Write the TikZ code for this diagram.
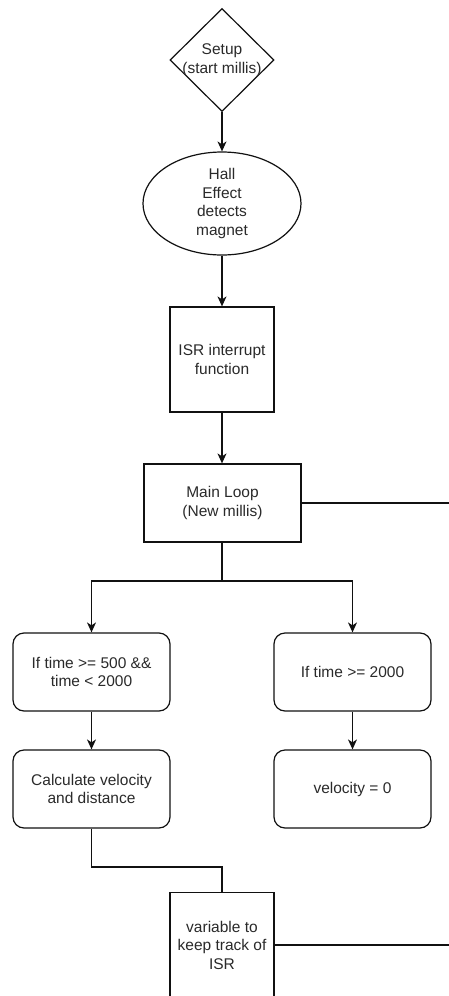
\documentclass[tikz,border=0pt]{standalone}
\usepackage{fontspec}
\setmainfont{Liberation Sans}
\usetikzlibrary{shapes.geometric,arrows.meta}
\definecolor{txtcol}{HTML}{2A2A2A}
\definecolor{linecol}{HTML}{111111}
\tikzset{
  lbl/.style={font=\fontsize{15.5}{18.5}\selectfont, text=txtcol, align=center, inner sep=0pt},
  box/.style={draw=linecol, line width=1.2pt, minimum width=104pt, minimum height=105pt, inner sep=2pt, lbl},
  wbox/.style={draw=linecol, line width=1.2pt, minimum width=157pt, minimum height=78pt, inner sep=2pt, lbl},
  rbox/.style={wbox, rounded corners=11pt},
  conn/.style={draw=linecol, line width=1.2pt},
  arr/.style={conn, -{Stealth[length=10pt,width=9pt,inset=3pt]}},
}
\begin{document}
\begin{tikzpicture}[x=1pt,y=-1pt]
\clip (0,0) rectangle (449,996);
\fill[white] (0,0) rectangle (449,996);

\node[diamond, draw=linecol, line width=1.2pt, minimum width=104pt, minimum height=103pt, inner sep=0pt] (setup) at (222,60) {};
\node[lbl] (setuptxt) at (setup.center) {Setup\\(start millis)};

\node[ellipse, draw=linecol, line width=1.2pt, minimum width=158pt, minimum height=103pt, inner sep=0pt] (hall) at (222,203.5) {};
\node[lbl] (halltxt) at (hall.center) {Hall\\Effect\\detects\\magnet};

\node[box] (isr) at (222,359.5) {ISR interrupt\\function};
\node[wbox] (main) at (222.5,503) {Main Loop\\(New millis)};
\node[rbox] (c1) at (91.5,672) {If time >= 500 \&\&\\time < 2000};
\node[rbox] (c2) at (352.5,672) {If time >= 2000};
\node[rbox] (calc) at (91.5,789) {Calculate velocity\\and distance};
\node[rbox] (vel) at (352.5,789) {velocity = 0};
\node[box] (var) at (222,945) {variable to\\keep track of\\ISR};

\coordinate (branch) at (222,581);
\coordinate (mainout) at (449,503);
\coordinate (jog) at (222,867);
\coordinate (varout) at (449,945);

\draw[arr] (setup.south) -- (hall.north);
\draw[arr] (hall.south) -- (isr.north);
\draw[arr] (isr.south) -- (isr.south |- main.north);
\draw[conn] (main.south -| branch) -- (branch);
\draw[arr] (branch) -| (c1.north);
\draw[arr] (branch) -| (c2.north);
\draw[conn] (main.east) -- (mainout);
\draw[arr] (c1.south) -- (calc.north);
\draw[arr] (c2.south) -- (vel.north);
\draw[conn] (calc.south) |- (jog) -- (var.north);
\draw[conn] (var.east) -- (varout);
\end{tikzpicture}
\end{document}
